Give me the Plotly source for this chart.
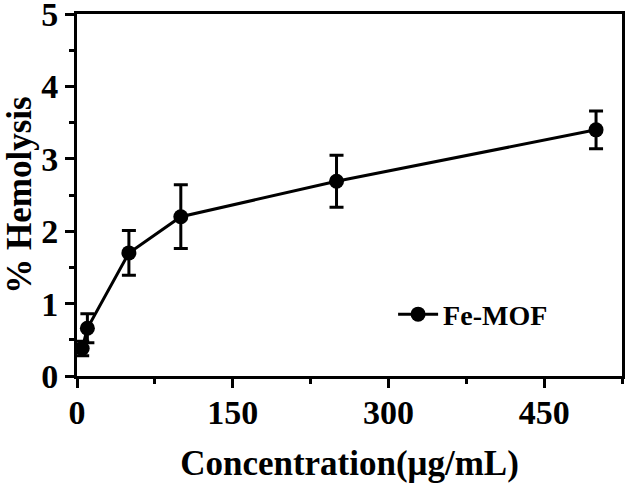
import plotly.graph_objects as go

concentration = [5, 10, 50, 100, 250, 500]
hemolysis = [0.38, 0.66, 1.70, 2.20, 2.69, 3.40]
error = [0.10, 0.20, 0.31, 0.44, 0.36, 0.26]
series_name = "Fe-MOF"
x_ticks = [0, 150, 300, 450]
y_ticks = [0, 1, 2, 3, 4, 5]

FONT = "Liberation Serif"

fig = go.Figure()
fig.add_trace(go.Scatter(
    x=concentration, y=hemolysis, name=series_name, mode="lines+markers",
    line=dict(color="black", width=3),
    marker=dict(color="black", size=15, symbol="circle"),
    error_y=dict(type="data", array=error, visible=True, color="black",
                 thickness=3, width=7),
))

axis_common = dict(
    showline=True, linecolor="black", linewidth=3, mirror=True,
    ticks="outside", ticklen=9, tickwidth=3, tickcolor="black",
    showgrid=False, zeroline=False, automargin=False,
    ticklabeloverflow="allow",
    tickfont=dict(family=FONT, size=34, color="black", weight="bold"),
)

fig.update_xaxes(
    range=[0, 525], tickvals=x_ticks, ticktext=[str(v) for v in x_ticks],
    minor=dict(ticks="outside", ticklen=5, tickwidth=3, tickcolor="black", dtick=75, tick0=0),
    ticklabelstandoff=-5,
    title=dict(text="Concentration(μg/mL)", standoff=22,
               font=dict(family=FONT, size=35, color="black", weight="bold")),
    **axis_common,
)
fig.update_yaxes(
    range=[0, 5], tickvals=y_ticks, ticktext=[str(v) for v in y_ticks],
    minor=dict(ticks="outside", ticklen=5, tickwidth=3, tickcolor="black", dtick=0.5, tick0=0),
    title=dict(text="% Hemolysis", standoff=14,
               font=dict(family=FONT, size=35, color="black", weight="bold")),
    **axis_common,
)

fig.update_layout(
    width=626, height=483,
    margin=dict(l=77, r=4, t=14, b=107),
    plot_bgcolor="white", paper_bgcolor="white",
    showlegend=True,
    legend=dict(x=0.58, y=0.17, xanchor="left", yanchor="middle",
                bgcolor="rgba(0,0,0,0)", itemwidth=40,
                font=dict(family=FONT, size=28, color="black", weight="bold")),
)

fig.write_html("out.html", config={"displayModeBar": False},
               post_script="document.body.style.margin='0';")
